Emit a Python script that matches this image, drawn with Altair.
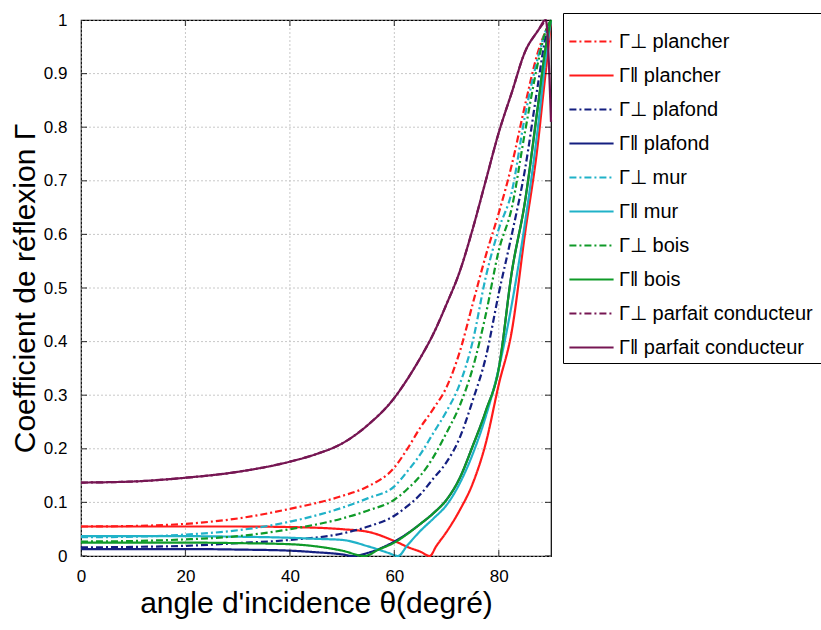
import altair as alt
import pandas as pd

# ---- data ----
labels = [
    "Γ⊥  plancher", "Γ‖ plancher",
    "Γ⊥  plafond", "Γ‖ plafond",
    "Γ⊥  mur", "Γ‖  mur",
    "Γ⊥  bois", "Γ‖ bois",
    "Γ⊥  parfait conducteur", "Γ‖ parfait conducteur",
]
colors = ["#ff1a1a", "#ff1a1a", "#141f80", "#141f80", "#20b2c8", "#20b2c8",
          "#0f9a28", "#0f9a28", "#761653", "#761653"]
dashes = [[7, 3, 2, 3], [1, 0]] * 5

ang_std = [0, 10, 20, 30, 40, 50, 55, 60, 62.5, 65, 67.5, 70, 72.5, 75, 77.5, 80, 82.5, 85, 87.5, 89, 90]

perp_plancher = [0.055, 0.056, 0.060, 0.070, 0.088, 0.112, 0.130, 0.165, 0.200, 0.240, 0.275, 0.315, 0.38, 0.47, 0.56, 0.64, 0.73, 0.84, 0.94, 0.98, 1.0]
perp_plafond = [0.016, 0.017, 0.019, 0.024, 0.030, 0.042, 0.055, 0.075, 0.093, 0.115, 0.145, 0.175, 0.22, 0.29, 0.37, 0.49, 0.60, 0.72, 0.88, 0.97, 1.0]
perp_mur = [0.035, 0.036, 0.040, 0.048, 0.064, 0.090, 0.108, 0.130, 0.158, 0.190, 0.230, 0.270, 0.32, 0.40, 0.52, 0.61, 0.68, 0.82, 0.93, 0.98, 1.0]
perp_bois = [0.027, 0.028, 0.031, 0.037, 0.050, 0.070, 0.085, 0.105, 0.125, 0.150, 0.185, 0.230, 0.28, 0.35, 0.45, 0.57, 0.65, 0.79, 0.92, 0.98, 1.0]

ang_par_plancher = [0, 10, 20, 30, 40, 50, 55, 60, 63, 65, 66.8, 68, 70, 72.5, 75, 77.5, 80, 82.5, 85, 87.5, 88.5, 89.5, 90]
par_plancher = [0.055, 0.055, 0.055, 0.055, 0.054, 0.050, 0.045, 0.028, 0.015, 0.008, 0.0, 0.018, 0.045, 0.085, 0.135, 0.21, 0.32, 0.42, 0.60, 0.77, 0.86, 0.95, 1.0]

ang_par_mur = [0, 10, 20, 30, 40, 45, 50, 55, 58.8, 60.7, 62.5, 65, 67.5, 70, 72.5, 75, 77.5, 80, 82.5, 85, 87.5, 89, 90]
par_mur = [0.037, 0.037, 0.037, 0.036, 0.034, 0.032, 0.030, 0.018, 0.006, 0.0, 0.020, 0.047, 0.070, 0.095, 0.135, 0.19, 0.26, 0.35, 0.47, 0.62, 0.80, 0.93, 1.0]

ang_par_bois = [0, 10, 20, 30, 40, 45, 50, 54.3, 57, 60, 63.3, 65, 67.5, 70, 72.5, 75, 77.5, 80, 82.5, 85, 87.5, 89, 90]
par_bois = [0.025, 0.025, 0.025, 0.024, 0.022, 0.018, 0.010, 0.0, 0.012, 0.025, 0.047, 0.060, 0.080, 0.105, 0.145, 0.205, 0.27, 0.35, 0.53, 0.66, 0.84, 0.95, 1.0]

ang_par_plafond = [0, 10, 20, 30, 40, 45, 50, 52, 55, 57.5, 60, 62.5, 65, 67.5, 70, 72.5, 75, 77.5, 80, 82.5, 85, 87.5, 89, 90]
par_plafond = [0.013, 0.013, 0.013, 0.012, 0.010, 0.007, 0.003, 0.0, 0.006, 0.015, 0.027, 0.042, 0.060, 0.080, 0.105, 0.145, 0.205, 0.27, 0.35, 0.53, 0.66, 0.84, 0.95, 1.0]

ang_cond = [0, 10, 20, 30, 40, 45, 50, 55, 60, 62.5, 65, 67.5, 70, 72.5, 75, 77.5, 80, 82.5, 85, 87.5, 89]
cond = [0.137, 0.139, 0.146, 0.157, 0.176, 0.190, 0.210, 0.245, 0.295, 0.33, 0.37, 0.415, 0.47, 0.53, 0.61, 0.70, 0.79, 0.865, 0.94, 0.98, 1.0]
ang_cond_end = [90]
cond_end = [0.81]

x_ticks = [0, 20, 40, 60, 80]
y_ticks = [0, 0.1, 0.2, 0.3, 0.4, 0.5, 0.6, 0.7, 0.8, 0.9, 1.0]

# ---- build table ----
series = [
    (labels[0], ang_std, perp_plancher),
    (labels[1], ang_par_plancher, par_plancher),
    (labels[2], ang_std, perp_plafond),
    (labels[3], ang_par_plafond, par_plafond),
    (labels[4], ang_std, perp_mur),
    (labels[5], ang_par_mur, par_mur),
    (labels[6], ang_std, perp_bois),
    (labels[7], ang_par_bois, par_bois),
    (labels[8], ang_cond, cond),
    (labels[9], ang_cond + ang_cond_end, cond + cond_end),
]
rows = []
for k, (name, xs, ys) in enumerate(series):
    for i, (a, v) in enumerate(zip(xs, ys)):
        rows.append({"serie": name, "angle": a, "gamma": v, "ord": i, "k": k})
df = pd.DataFrame(rows)

FONT = "Liberation Sans"

xscale = alt.Scale(domain=[0, 90], nice=False)
yscale = alt.Scale(domain=[0, 1], nice=False)

xaxis = alt.Axis(values=x_ticks, title="angle d'incidence θ(degré)",
                 titleFontSize=30, titleFontWeight="normal", titleFont=FONT,
                 titlePadding=4, labelFontSize=17, labelFont=FONT,
                 labelPadding=12, ticks=False, domain=False, grid=False,
                 labelFlush=False, labelColor="black", titleColor="black")
yaxis = alt.Axis(values=y_ticks, format="~g", title="Coefficient de réflexion Γ",
                 titleFontSize=30, titleFontWeight="normal", titleFont=FONT,
                 titlePadding=3, labelFontSize=17, labelFont=FONT,
                 labelPadding=14, ticks=False, domain=False, grid=False,
                 labelFlush=False, labelColor="black", titleColor="black")

# grid (dotted, light) drawn from tick values
xg = pd.DataFrame({"v": x_ticks})
yg = pd.DataFrame({"v": y_ticks})
xgrid = alt.Chart(xg).mark_rule(color="#c8c8c8", strokeDash=[2, 2], strokeWidth=1).encode(
    x=alt.X("v:Q", scale=xscale, axis=xaxis))
ygrid = alt.Chart(yg).mark_rule(color="#c8c8c8", strokeDash=[2, 2], strokeWidth=1).encode(
    y=alt.Y("v:Q", scale=yscale, axis=yaxis))

lines = alt.Chart(df).mark_line(strokeWidth=2.2, interpolate="monotone").encode(
    x=alt.X("angle:Q", scale=xscale, axis=xaxis),
    y=alt.Y("gamma:Q", scale=yscale, axis=yaxis),
    color=alt.Color("serie:N", scale=alt.Scale(domain=labels, range=colors),
                    legend=alt.Legend(title=None, orient="none", legendX=482, legendY=-7,
                                      symbolType="stroke", symbolStrokeWidth=2.2,
                                      symbolSize=1950, labelFontSize=20, labelFont=FONT,
                                      labelColor="black", strokeColor="black",
                                      fillColor="white", padding=5, rowPadding=0,
                                      labelOffset=4, labelLimit=300)),
    strokeDash=alt.StrokeDash("serie:N", scale=alt.Scale(domain=labels, range=dashes),
                              legend=None),
    detail="k:N",
    order="ord:Q",
)

xt = pd.DataFrame([{"v": v, "e": e} for v in x_ticks for e in [0, 1]])
yt = pd.DataFrame([{"v": v, "e": e} for v in y_ticks for e in [0, 90]])

xtick_marks = alt.Chart(xt).mark_tick(orient="vertical", size=12, thickness=1.2,
                                      color="black", clip=True).encode(
    x=alt.X("v:Q", scale=xscale, axis=xaxis), y=alt.Y("e:Q", scale=yscale, axis=yaxis))
ytick_marks = alt.Chart(yt).mark_tick(orient="horizontal", size=12, thickness=1.2,
                                      color="black", clip=True).encode(
    y=alt.Y("v:Q", scale=yscale, axis=yaxis), x=alt.X("e:Q", scale=xscale, axis=xaxis))

chart = alt.layer(xgrid, ygrid, lines, xtick_marks, ytick_marks).properties(
    width=470, height=536,
    autosize=alt.AutoSizeParams(type="none"),
    padding={"left": 81, "top": 20, "right": 270, "bottom": 74},
    background="white",
).configure_view(stroke="black", strokeWidth=1.2)

chart.save("out.html", embed_options={"renderer": "svg", "actions": False})
